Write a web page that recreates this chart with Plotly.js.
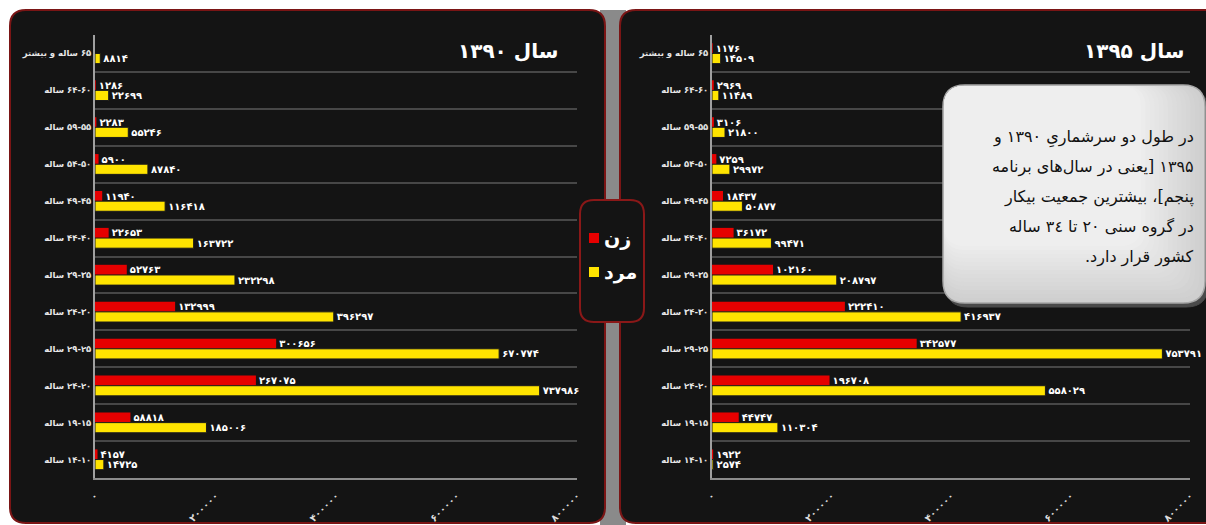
<!DOCTYPE html>
<html>
<head>
<meta charset="utf-8">
<script src="https://cdn.plot.ly/plotly-3.0.1.min.js"></script>
<style>
  html, body { margin: 0; padding: 0; background: #ffffff; }
  #chart { width: 1206px; height: 525px; }
</style>
</head>
<body>
<div id="chart"></div>
<script>
// Unemployed population by age group and sex, censuses 1390 and 1395
const ageGroups = [
  '۶۵ ساله و بیشتر', '۶۴-۶۰ ساله', '۵۹-۵۵ ساله', '۵۴-۵۰ ساله',
  '۴۹-۴۵ ساله', '۴۴-۴۰ ساله', '۳۹-۳۵ ساله', '۳۴-۳۰ ساله',
  '۲۹-۲۵ ساله', '۲۴-۲۰ ساله', '۱۹-۱۵ ساله', '۱۴-۱۰ ساله'
];
const female1390 = [null, 1286, 2283, 5900, 11940, 22653, 52763, 132999, 300656, 267075, 58818, 4157];
const male1390   = [8814, 22699, 55246, 87840, 116418, 163722, 232298, 396297, 670774, 737986, 185006, 14725];
const female1395 = [1176, 2969, 3106, 7259, 18437, 36172, 102160, 222410, 342577, 196708, 44747, 1922];
const male1395   = [14509, 11489, 21800, 29972, 50877, 99471, 208797, 416937, 753791, 558029, 110304, 2574];
const xTickValues = [0, 200000, 400000, 600000, 800000];
const panelTitles = ['سال ۱۳۹۰', 'سال ۱۳۹۵'];
const seriesNames = ['زن', 'مرد'];
const noteLines = [
  'در طول دو سرشماریِ ۱۳۹۰ و',
  '۱۳۹۵ [یعنی در سال‌های برنامه',
  'پنجم]، بیشترین جمعیت بیکار',
  'در گروه سنی ۲۰ تا ۳٤ ساله',
  'کشور قرار دارد.'
];

const W = 1206, H = 525;
const px = x => x / W;
const py = y => 1 - y / H;
const FA_DIGITS = '۰۱۲۳۴۵۶۷۸۹';
const toFa = v => String(v).replace(/\d/g, d => FA_DIGITS[d]);
const RLM = '\u200F';
const rtl = s => RLM + s + RLM;
const FONT = 'DejaVu Sans, Noto Sans, sans-serif';

const RED = '#e60000';
const YELLOW = '#ffe400';
const PANEL_BG = '#141414';
const PANEL_EDGE = '#7a1515';

function barTrace(values, name, color, xa, ya, outline) {
  return {
    type: 'bar',
    orientation: 'h',
    name: name,
    x: values,
    y: ageGroups.map(rtl),
    xaxis: xa,
    yaxis: ya,
    text: values.map(v => (v == null ? '' : toFa(v))),
    textposition: 'outside',
    constraintext: 'none',
    cliponaxis: false,
    textfont: { color: '#ffffff', size: 10, family: FONT, weight: 'bold' },
    marker: { color: color, line: { color: '#1a1a1a', width: outline ? 1 : 0 } },
    hoverinfo: 'skip',
    showlegend: false
  };
}

const data = [
  barTrace(female1390, seriesNames[0], RED, 'x', 'y', false),
  barTrace(male1390, seriesNames[1], YELLOW, 'x', 'y', true),
  barTrace(female1395, seriesNames[0], RED, 'x2', 'y2', false),
  barTrace(male1395, seriesNames[1], YELLOW, 'x2', 'y2', true)
];

function xAxis(x0, x1, anchor) {
  return {
    domain: [px(x0), px(x1)],
    anchor: anchor,
    range: [0, 800000],
    tickvals: xTickValues,
    ticktext: xTickValues.map(toFa),
    tickangle: -45,
    tickfont: { size: 10, color: '#dddddd', family: FONT, weight: 'bold' },
    ticks: '',
    ticklabelstandoff: 6,
    showgrid: false,
    zeroline: false,
    showline: true,
    linecolor: '#8c8c8c',
    linewidth: 2,
    fixedrange: true
  };
}

function yAxis(anchor) {
  return {
    domain: [py(478), py(35)],
    anchor: anchor,
    type: 'category',
    autorange: 'reversed',
    tickson: 'boundaries',
    ticks: '',
    showgrid: true,
    gridcolor: '#474747',
    gridwidth: 2,
    showline: true,
    linecolor: '#a0a0a0',
    linewidth: 2,
    tickfont: { size: 8.5, color: '#e6e6e6', family: FONT, weight: 'bold' },
    fixedrange: true
  };
}

// rounded rectangle path in paper coordinates from pixel corners
function roundRect(x0, y0, x1, y1, r) {
  const X = px, Y = py;
  return 'M' + X(x0 + r) + ',' + Y(y0) +
    ' L' + X(x1 - r) + ',' + Y(y0) +
    ' Q' + X(x1) + ',' + Y(y0) + ' ' + X(x1) + ',' + Y(y0 + r) +
    ' L' + X(x1) + ',' + Y(y1 - r) +
    ' Q' + X(x1) + ',' + Y(y1) + ' ' + X(x1 - r) + ',' + Y(y1) +
    ' L' + X(x0 + r) + ',' + Y(y1) +
    ' Q' + X(x0) + ',' + Y(y1) + ' ' + X(x0) + ',' + Y(y1 - r) +
    ' L' + X(x0) + ',' + Y(y0 + r) +
    ' Q' + X(x0) + ',' + Y(y0) + ' ' + X(x0 + r) + ',' + Y(y0) + ' Z';
}

function rectShape(x0, y0, x1, y1, fill, layer) {
  return {
    type: 'rect', xref: 'paper', yref: 'paper',
    x0: px(x0), x1: px(x1), y0: py(y1), y1: py(y0),
    fillcolor: fill, line: { width: 0 }, layer: layer || 'below'
  };
}

function pathShape(path, fill, edge, width, layer) {
  return {
    type: 'path', xref: 'paper', yref: 'paper', path: path,
    fillcolor: fill, line: { color: edge, width: width }, layer: layer || 'below'
  };
}

const shapes = [
  rectShape(600, 10, 626, 525, '#8a8a8a'),
  pathShape(roundRect(10, 10, 605, 523, 16), PANEL_BG, PANEL_EDGE, 2),
  pathShape(roundRect(620, 10, 1222, 523, 16), PANEL_BG, PANEL_EDGE, 2),
  // legend box
  pathShape(roundRect(580, 200, 644, 322, 14), PANEL_BG, '#8a1818', 2),
  rectShape(589, 233, 599, 243, RED, 'above'),
  rectShape(589, 267, 599, 277, YELLOW, 'above'),
  // note box: shadow and outer edge
  pathShape(roundRect(946, 89, 1208, 307, 22), '#4a4a4a', '#4a4a4a', 1, 'above'),
  pathShape(roundRect(943, 85, 1205, 303, 22), '#cfcfcf', '#a8a8a8', 1.5, 'above')
];
// note box shading: stacked layers, lighter toward the upper left
for (let i = 1; i <= 14; i++) {
  const g = Math.round(0xcf + i * 2.2);
  const c = 'rgb(' + g + ',' + g + ',' + g + ')';
  shapes.push(pathShape(roundRect(944, 86, 1204 - i * 4.5, 302 - i * 4, 21), c, 'rgba(0,0,0,0)', 0, 'above'));
}

const annotations = [
  { text: panelTitles[0], x: px(560), y: py(51), xanchor: 'right', yanchor: 'middle' },
  { text: panelTitles[1], x: px(1186), y: py(51), xanchor: 'right', yanchor: 'middle' }
].map(a => Object.assign(a, {
  xref: 'paper', yref: 'paper', showarrow: false,
  font: { size: 20, color: '#ffffff', family: FONT, weight: 'bold' }
}));

seriesNames.forEach((name, i) => {
  annotations.push({
    text: name, xref: 'paper', yref: 'paper', showarrow: false,
    x: px(602), y: py(238 + i * 34), xanchor: 'left', yanchor: 'middle',
    font: { size: 19, color: '#ffffff', family: FONT, weight: 'bold' }
  });
});

noteLines.forEach((line, i) => {
  annotations.push({
    text: rtl(line), xref: 'paper', yref: 'paper', showarrow: false,
    x: px(1196), y: py(137 + i * 30), xanchor: 'right', yanchor: 'middle',
    align: 'right',
    font: { size: 16, color: '#111111', family: 'DejaVu Serif, DejaVu Sans, serif' }
  });
});

const layout = {
  width: W,
  height: H,
  margin: { l: 0, r: 0, t: 0, b: 0 },
  paper_bgcolor: '#ffffff',
  plot_bgcolor: 'rgba(0,0,0,0)',
  barmode: 'group',
  bargap: 0.45,
  bargroupgap: 0,
  showlegend: false,
  font: { family: FONT, color: '#ffffff' },
  xaxis: xAxis(95, 577, 'y'),
  yaxis: yAxis('x'),
  xaxis2: xAxis(712, 1190, 'y2'),
  yaxis2: yAxis('x2'),
  shapes: shapes,
  annotations: annotations
};

Plotly.newPlot('chart', data, layout, { staticPlot: true, displayModeBar: false });
</script>
</body>
</html>
